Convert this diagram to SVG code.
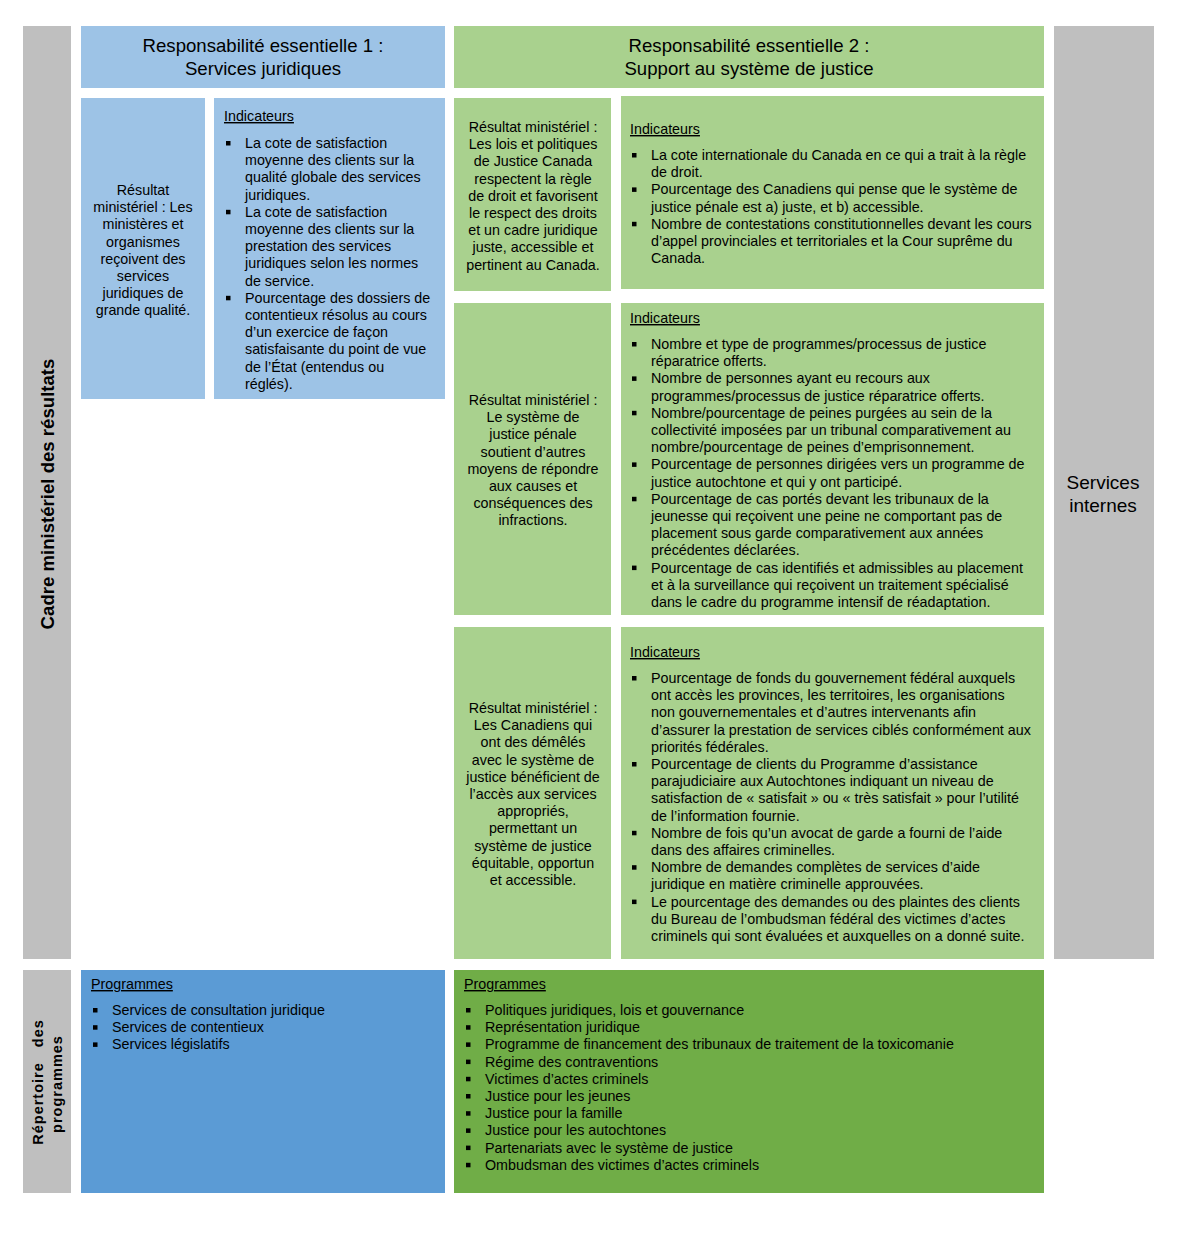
<svg xmlns="http://www.w3.org/2000/svg" width="1179" height="1251" viewBox="0 0 1179 1251">
<style>
.gray{fill:#BFBFBF}.lb{fill:#9DC3E6}.lg{fill:#A9D18E}.db{fill:#5B9BD5}.dg{fill:#70AD47}
text{font-family:"Liberation Sans",Arial,sans-serif;fill:#000}
.t{font-size:14.3px}
.c{font-size:14.3px;text-anchor:middle}
.h{font-size:18.6px;text-anchor:middle}
.s{font-size:19px;text-anchor:middle}
.u{font-size:14.3px;text-decoration:underline}
.v{font-size:18.6px;font-weight:bold;text-anchor:middle}
.v2{font-size:14.5px;font-weight:bold;text-anchor:middle;letter-spacing:1px}
.b{fill:#000}
</style>
<rect width="1179" height="1251" fill="#fff"/>

<g id="cadre">
<rect class="gray" x="23" y="26" width="48" height="933"/>
<text class="v" transform="translate(54,494) rotate(-90)">Cadre ministériel des résultats</text>
</g>
<g id="repertoire">
<rect class="gray" x="23" y="970" width="48" height="223"/>
<text class="v2" transform="translate(43,1082) rotate(-90)" word-spacing="10">Répertoire des</text>
<text class="v2" transform="translate(62,1084) rotate(-90)">programmes</text>
</g>
<g id="services-internes">
<rect class="gray" x="1054" y="26" width="100" height="933"/>
<text class="s" x="1103" y="489">Services</text>
<text class="s" x="1103" y="512">internes</text>
</g>

<g id="re1-header">
<rect class="lb" x="81" y="26" width="364" height="62"/>
<text class="h" x="263" y="52">Responsabilité essentielle 1 :</text>
<text class="h" x="263" y="75">Services juridiques</text>
</g>
<g id="re2-header">
<rect class="lg" x="454" y="26" width="590" height="62"/>
<text class="h" x="749" y="52">Responsabilité essentielle 2 :</text>
<text class="h" x="749" y="75">Support au système de justice</text>
</g>

<g id="re1-resultat">
<rect class="lb" x="81" y="98" width="124" height="301"/>
<text class="c" x="143" y="195"><tspan x="143">Résultat</tspan><tspan x="143" dy="17.2">ministériel : Les</tspan><tspan x="143" dy="17.2">ministères et</tspan><tspan x="143" dy="17.2">organismes</tspan><tspan x="143" dy="17.2">reçoivent des</tspan><tspan x="143" dy="17.2">services</tspan><tspan x="143" dy="17.2">juridiques de</tspan><tspan x="143" dy="17.2">grande qualité.</tspan></text>
</g>
<g id="re1-indicateurs">
<rect class="lb" x="214" y="98" width="231" height="301"/>
<text class="u" x="224" y="121">Indicateurs</text>
<rect class="b" x="226" y="141" width="4.5" height="4.5"/>
<rect class="b" x="226" y="209.8" width="4.5" height="4.5"/>
<rect class="b" x="226" y="295.8" width="4.5" height="4.5"/>
<text class="t" x="245" y="148"><tspan x="245">La cote de satisfaction</tspan><tspan x="245" dy="17.2">moyenne des clients sur la</tspan><tspan x="245" dy="17.2">qualité globale des services</tspan><tspan x="245" dy="17.2">juridiques.</tspan><tspan x="245" dy="17.2">La cote de satisfaction</tspan><tspan x="245" dy="17.2">moyenne des clients sur la</tspan><tspan x="245" dy="17.2">prestation des services</tspan><tspan x="245" dy="17.2">juridiques selon les normes</tspan><tspan x="245" dy="17.2">de service.</tspan><tspan x="245" dy="17.2">Pourcentage des dossiers de</tspan><tspan x="245" dy="17.2">contentieux résolus au cours</tspan><tspan x="245" dy="17.2">d’un exercice de façon</tspan><tspan x="245" dy="17.2">satisfaisante du point de vue</tspan><tspan x="245" dy="17.2">de l’État (entendus ou</tspan><tspan x="245" dy="17.2">réglés).</tspan></text>
</g>

<g id="re2-resultat-1">
<rect class="lg" x="454" y="98" width="157" height="193"/>
<text class="c" x="533" y="132"><tspan x="533">Résultat ministériel :</tspan><tspan x="533" dy="17.2">Les lois et politiques</tspan><tspan x="533" dy="17.2">de Justice Canada</tspan><tspan x="533" dy="17.2">respectent la règle</tspan><tspan x="533" dy="17.2">de droit et favorisent</tspan><tspan x="533" dy="17.2">le respect des droits</tspan><tspan x="533" dy="17.2">et un cadre juridique</tspan><tspan x="533" dy="17.2">juste, accessible et</tspan><tspan x="533" dy="17.2">pertinent au Canada.</tspan></text>
</g>
<g id="re2-indicateurs-1">
<rect class="lg" x="621" y="96" width="423" height="193"/>
<text class="u" x="630" y="134">Indicateurs</text>
<rect class="b" x="632" y="153" width="4.5" height="4.5"/>
<rect class="b" x="632" y="187.4" width="4.5" height="4.5"/>
<rect class="b" x="632" y="221.8" width="4.5" height="4.5"/>
<text class="t" x="651" y="160"><tspan x="651">La cote internationale du Canada en ce qui a trait à la règle</tspan><tspan x="651" dy="17.2">de droit.</tspan><tspan x="651" dy="17.2">Pourcentage des Canadiens qui pense que le système de</tspan><tspan x="651" dy="17.2">justice pénale est a) juste, et b) accessible.</tspan><tspan x="651" dy="17.2">Nombre de contestations constitutionnelles devant les cours</tspan><tspan x="651" dy="17.2">d’appel provinciales et territoriales et la Cour suprême du</tspan><tspan x="651" dy="17.2">Canada.</tspan></text>
</g>

<g id="re2-resultat-2">
<rect class="lg" x="454" y="303" width="157" height="312"/>
<text class="c" x="533" y="405"><tspan x="533">Résultat ministériel :</tspan><tspan x="533" dy="17.2">Le système de</tspan><tspan x="533" dy="17.2">justice pénale</tspan><tspan x="533" dy="17.2">soutient d’autres</tspan><tspan x="533" dy="17.2">moyens de répondre</tspan><tspan x="533" dy="17.2">aux causes et</tspan><tspan x="533" dy="17.2">conséquences des</tspan><tspan x="533" dy="17.2">infractions.</tspan></text>
</g>
<g id="re2-indicateurs-2">
<rect class="lg" x="621" y="303" width="423" height="312"/>
<text class="u" x="630" y="323">Indicateurs</text>
<rect class="b" x="632" y="342" width="4.5" height="4.5"/>
<rect class="b" x="632" y="376.4" width="4.5" height="4.5"/>
<rect class="b" x="632" y="410.8" width="4.5" height="4.5"/>
<rect class="b" x="632" y="462.4" width="4.5" height="4.5"/>
<rect class="b" x="632" y="496.8" width="4.5" height="4.5"/>
<rect class="b" x="632" y="565.6" width="4.5" height="4.5"/>
<text class="t" x="651" y="349"><tspan x="651">Nombre et type de programmes/processus de justice</tspan><tspan x="651" dy="17.2">réparatrice offerts.</tspan><tspan x="651" dy="17.2">Nombre de personnes ayant eu recours aux</tspan><tspan x="651" dy="17.2">programmes/processus de justice réparatrice offerts.</tspan><tspan x="651" dy="17.2">Nombre/pourcentage de peines purgées au sein de la</tspan><tspan x="651" dy="17.2">collectivité imposées par un tribunal comparativement au</tspan><tspan x="651" dy="17.2">nombre/pourcentage de peines d’emprisonnement.</tspan><tspan x="651" dy="17.2">Pourcentage de personnes dirigées vers un programme de</tspan><tspan x="651" dy="17.2">justice autochtone et qui y ont participé.</tspan><tspan x="651" dy="17.2">Pourcentage de cas portés devant les tribunaux de la</tspan><tspan x="651" dy="17.2">jeunesse qui reçoivent une peine ne comportant pas de</tspan><tspan x="651" dy="17.2">placement sous garde comparativement aux années</tspan><tspan x="651" dy="17.2">précédentes déclarées.</tspan><tspan x="651" dy="17.2">Pourcentage de cas identifiés et admissibles au placement</tspan><tspan x="651" dy="17.2">et à la surveillance qui reçoivent un traitement spécialisé</tspan><tspan x="651" dy="17.2">dans le cadre du programme intensif de réadaptation.</tspan></text>
</g>

<g id="re2-resultat-3">
<rect class="lg" x="454" y="627" width="157" height="332"/>
<text class="c" x="533" y="713"><tspan x="533">Résultat ministériel :</tspan><tspan x="533" dy="17.2">Les Canadiens qui</tspan><tspan x="533" dy="17.2">ont des démêlés</tspan><tspan x="533" dy="17.2">avec le système de</tspan><tspan x="533" dy="17.2">justice bénéficient de</tspan><tspan x="533" dy="17.2">l’accès aux services</tspan><tspan x="533" dy="17.2">appropriés,</tspan><tspan x="533" dy="17.2">permettant un</tspan><tspan x="533" dy="17.2">système de justice</tspan><tspan x="533" dy="17.2">équitable, opportun</tspan><tspan x="533" dy="17.2">et accessible.</tspan></text>
</g>
<g id="re2-indicateurs-3">
<rect class="lg" x="621" y="627" width="423" height="332"/>
<text class="u" x="630" y="657">Indicateurs</text>
<rect class="b" x="632" y="676" width="4.5" height="4.5"/>
<rect class="b" x="632" y="762" width="4.5" height="4.5"/>
<rect class="b" x="632" y="830.8" width="4.5" height="4.5"/>
<rect class="b" x="632" y="865.2" width="4.5" height="4.5"/>
<rect class="b" x="632" y="899.6" width="4.5" height="4.5"/>
<text class="t" x="651" y="683"><tspan x="651">Pourcentage de fonds du gouvernement fédéral auxquels</tspan><tspan x="651" dy="17.2">ont accès les provinces, les territoires, les organisations</tspan><tspan x="651" dy="17.2">non gouvernementales et d’autres intervenants afin</tspan><tspan x="651" dy="17.2">d’assurer la prestation de services ciblés conformément aux</tspan><tspan x="651" dy="17.2">priorités fédérales.</tspan><tspan x="651" dy="17.2">Pourcentage de clients du Programme d’assistance</tspan><tspan x="651" dy="17.2">parajudiciaire aux Autochtones indiquant un niveau de</tspan><tspan x="651" dy="17.2">satisfaction de « satisfait » ou « très satisfait » pour l’utilité</tspan><tspan x="651" dy="17.2">de l’information fournie.</tspan><tspan x="651" dy="17.2">Nombre de fois qu’un avocat de garde a fourni de l’aide</tspan><tspan x="651" dy="17.2">dans des affaires criminelles.</tspan><tspan x="651" dy="17.2">Nombre de demandes complètes de services d’aide</tspan><tspan x="651" dy="17.2">juridique en matière criminelle approuvées.</tspan><tspan x="651" dy="17.2">Le pourcentage des demandes ou des plaintes des clients</tspan><tspan x="651" dy="17.2">du Bureau de l’ombudsman fédéral des victimes d’actes</tspan><tspan x="651" dy="17.2">criminels qui sont évaluées et auxquelles on a donné suite.</tspan></text>
</g>

<g id="re1-programmes">
<rect class="db" x="81" y="970" width="364" height="223"/>
<text class="u" x="91" y="989">Programmes</text>
<rect class="b" x="93" y="1008" width="4.5" height="4.5"/>
<rect class="b" x="93" y="1025.2" width="4.5" height="4.5"/>
<rect class="b" x="93" y="1042.4" width="4.5" height="4.5"/>
<text class="t" x="112" y="1015"><tspan x="112">Services de consultation juridique</tspan><tspan x="112" dy="17.2">Services de contentieux</tspan><tspan x="112" dy="17.2">Services législatifs</tspan></text>
</g>
<g id="re2-programmes">
<rect class="dg" x="454" y="970" width="590" height="223"/>
<text class="u" x="464" y="989">Programmes</text>
<rect class="b" x="466" y="1008" width="4.5" height="4.5"/>
<rect class="b" x="466" y="1025.2" width="4.5" height="4.5"/>
<rect class="b" x="466" y="1042.4" width="4.5" height="4.5"/>
<rect class="b" x="466" y="1059.6" width="4.5" height="4.5"/>
<rect class="b" x="466" y="1076.8" width="4.5" height="4.5"/>
<rect class="b" x="466" y="1094" width="4.5" height="4.5"/>
<rect class="b" x="466" y="1111.2" width="4.5" height="4.5"/>
<rect class="b" x="466" y="1128.4" width="4.5" height="4.5"/>
<rect class="b" x="466" y="1145.6" width="4.5" height="4.5"/>
<rect class="b" x="466" y="1162.8" width="4.5" height="4.5"/>
<text class="t" x="485" y="1015"><tspan x="485">Politiques juridiques, lois et gouvernance</tspan><tspan x="485" dy="17.2">Représentation juridique</tspan><tspan x="485" dy="17.2">Programme de financement des tribunaux de traitement de la toxicomanie</tspan><tspan x="485" dy="17.2">Régime des contraventions</tspan><tspan x="485" dy="17.2">Victimes d’actes criminels</tspan><tspan x="485" dy="17.2">Justice pour les jeunes</tspan><tspan x="485" dy="17.2">Justice pour la famille</tspan><tspan x="485" dy="17.2">Justice pour les autochtones</tspan><tspan x="485" dy="17.2">Partenariats avec le système de justice</tspan><tspan x="485" dy="17.2">Ombudsman des victimes d’actes criminels</tspan></text>
</g>

<g id="connectors"></g>
</svg>
